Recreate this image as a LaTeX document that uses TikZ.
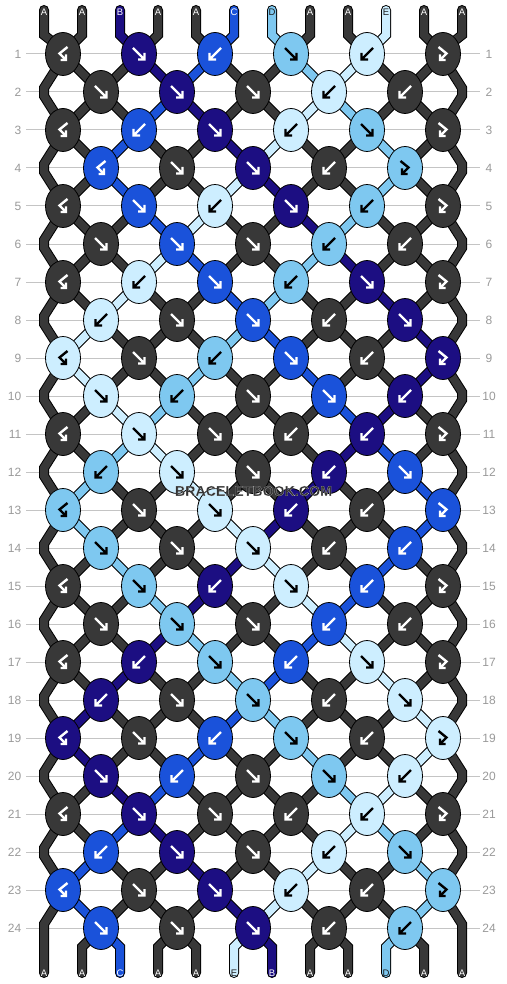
\documentclass[tikz,border=0pt]{standalone}
\usepackage{fontspec}
\setmainfont{Liberation Sans}
\usetikzlibrary{shapes.geometric}
\definecolor{colA}{HTML}{383838}
\definecolor{colB}{HTML}{1C0E82}
\definecolor{colC}{HTML}{1A52DA}
\definecolor{colD}{HTML}{7EC8F0}
\definecolor{colE}{HTML}{CDEEFF}
\colorlet{arrA}{white}
\colorlet{arrB}{white}
\colorlet{arrC}{white}
\colorlet{arrD}{black}
\colorlet{arrE}{black}
\colorlet{labA}{white}
\colorlet{labB}{white}
\colorlet{labC}{white}
\definecolor{labD}{HTML}{1A1A1A}
\definecolor{labE}{HTML}{1A1A1A}
\definecolor{rowgray}{HTML}{C4C4C4}
\definecolor{numgray}{HTML}{9A9A9A}
\definecolor{wmgray}{HTML}{333333}
\tikzset{
  knot/.style={ellipse, minimum width=35pt, minimum height=43pt, inner sep=0pt, draw=black, line width=0.8pt},
  strO/.style={line width=10pt, draw=black, line cap=round, line join=miter},
  strF/.style={line width=8pt, draw=col#1, line cap=round, line join=miter},
  arrowline/.style={line width=2.4pt, line cap=butt, line join=miter},
  rowline/.style={draw=rowgray, line width=1pt},
  rownum/.style={text=numgray, font=\fontsize{12}{12}\selectfont, inner sep=0pt},
  endlab/.style={font=\fontsize{9.5}{10}\selectfont, inner sep=0pt},
  wm/.style={font=\bfseries\fontsize{14.2}{14}\selectfont, inner sep=0pt},
}
\newcommand\haloed[1]{\special{pdf:literal direct 2 Tr 0.05 w 1 j 1 1 1 RG}#1\special{pdf:literal direct 0 Tr}}
\newcommand\knotarrow[1]{%
  \if#1f\draw[arrowline] (-6,-6) -- (5.5,5.5) (-1,5.5) -- (5.5,5.5) -- (5.5,-1);\fi
  \if#1b\draw[arrowline] (6,-6) -- (-5.5,5.5) (1,5.5) -- (-5.5,5.5) -- (-5.5,-1);\fi
  \if#1F\draw[arrowline] (-4.5,-7) -- (3.5,-0.5) -- (-3,6) (-3,0.5) -- (-3,6) -- (2.5,6);\fi
  \if#1B\draw[arrowline] (4.5,-7) -- (-3.5,-0.5) -- (3,6) (3,0.5) -- (3,6) -- (-2.5,6);\fi
}
\newcommand\allstrings[1]{%
  \draw[str#1=A] (T1) -- (p0-1) \foreach \rr in {1,...,24}{ -- ([yshift=4pt]p\rr-1) -- ([yshift=-4pt]p\rr-1)} -- (p25-1) -- (B1);
  \draw[str#1=A] (T12) -- (p0-12) \foreach \rr in {1,...,24}{ -- ([yshift=4pt]p\rr-12) -- ([yshift=-4pt]p\rr-12)} -- (p25-12) -- (B12);
  \foreach \cc [count=\pp] in {A,A,B,A,A,C,D,A,A,E,A,A}{%
    \ifnum\pp>1 \ifnum\pp<12 \draw[str#1=\cc] (T\pp) -- (p0-\pp) -- (p1-\pp);\fi\fi
  }
  \foreach \rr/\lst in {1/{A,A,A,B,C,A,A,D,E,A,A,A},
    2/{A,A,A,C,B,A,A,E,D,A,A,A},
    3/{A,A,C,A,A,B,E,A,A,D,A,A},
    4/{A,A,C,A,A,E,B,A,A,D,A,A},
    5/{A,A,A,C,E,A,A,B,D,A,A,A},
    6/{A,A,A,E,C,A,A,D,B,A,A,A},
    7/{A,A,E,A,A,C,D,A,A,B,A,A},
    8/{A,E,A,A,A,D,C,A,A,A,B,A},
    9/{A,E,A,A,D,A,A,C,A,A,B,A},
    10/{A,A,E,D,A,A,A,A,C,B,A,A},
    11/{A,A,D,E,A,A,A,A,B,C,A,A},
    12/{A,D,A,A,E,A,A,B,A,A,C,A},
    13/{A,D,A,A,A,E,B,A,A,A,C,A},
    14/{A,A,D,A,A,B,E,A,A,C,A,A},
    15/{A,A,A,D,B,A,A,E,C,A,A,A},
    16/{A,A,A,B,D,A,A,C,E,A,A,A},
    17/{A,A,B,A,A,D,C,A,A,E,A,A},
    18/{A,B,A,A,A,C,D,A,A,A,E,A},
    19/{A,B,A,A,C,A,A,D,A,A,E,A},
    20/{A,A,B,C,A,A,A,A,D,E,A,A},
    21/{A,A,C,B,A,A,A,A,E,D,A,A},
    22/{A,C,A,A,B,A,A,E,A,A,D,A},
    23/{A,C,A,A,A,B,E,A,A,A,D,A}}{%
    \pgfmathtruncatemacro\rn{\rr+1}%
    \foreach \cc [count=\pp] in \lst {%
      \ifnum\pp>1 \ifnum\pp<12 \draw[str#1=\cc] (p\rr-\pp) -- (p\rn-\pp);\fi\fi
    }
  }
  \foreach \cc [count=\pp] in {A,A,C,A,A,E,B,A,A,D,A,A}{%
    \ifnum\pp>1 \ifnum\pp<12 \draw[str#1=\cc] (p24-\pp) -- (p25-\pp) -- (B\pp);\fi\fi
  }
}
\begin{document}
\begin{tikzpicture}[x=1pt,y=-1pt]
\useasboundingbox (0,0) rectangle (506,984);
\fill[white] (0,0) rectangle (506,984);
% position coordinates
\foreach \rr in {0,...,25}{
  \foreach \pp in {1,...,12}{
    \pgfmathsetmacro\yy{\rr==0 ? 35 : (\rr==25 ? 947 : 16+38*\rr)}
    \pgfmathsetmacro\xx{(\rr==0 || \rr==25) ? 6+38*\pp : (mod(\rr,2)==1 ? 76*int((\pp+1)/2)-13 : (\pp==1 ? 44 : (\pp==12 ? 462 : 76*int(\pp/2)+25)))}
    \coordinate (p\rr-\pp) at (\xx,\yy);
  }
}
\foreach \pp in {1,...,12}{
  \pgfmathsetmacro\xx{6+38*\pp}
  \coordinate (T\pp) at (\xx,10);
  \coordinate (B\pp) at (\xx,973);
}
% row guide lines and numbers
\foreach \rr in {1,...,24}{
  \pgfmathsetmacro\yy{16+38*\rr}
  \coordinate (rl\rr) at (26,\yy);
  \coordinate (rr\rr) at (480,\yy);
  \draw[rowline] (rl\rr) -- (rr\rr);
  \node[rownum, anchor=east] (ln\rr) at (21.5,\yy) {\rr};
  \node[rownum] (rn\rr) at (489,\yy) {\rr};
}
% strings
\allstrings{O}
\allstrings{F}
% knots
\foreach \rr/\lst in {1/{A/B,B/f,C/b,D/f,E/b,A/F},
  2/{A/f,B/f,A/f,E/b,A/b},
  3/{A/B,C/b,B/f,E/b,D/f,A/F},
  4/{C/B,A/f,B/f,A/b,D/F},
  5/{A/B,C/f,E/b,B/f,D/b,A/F},
  6/{A/f,C/f,A/f,D/b,A/b},
  7/{A/B,E/b,C/f,D/b,B/f,A/F},
  8/{E/b,A/f,C/f,A/b,B/f},
  9/{E/B,A/f,D/b,C/f,A/b,B/F},
  10/{E/f,D/b,A/f,C/f,B/b},
  11/{A/B,E/f,A/f,A/b,B/b,A/F},
  12/{D/b,E/f,A/f,B/b,C/f},
  13/{D/B,A/f,E/f,B/b,A/b,C/F},
  14/{D/f,A/f,E/f,A/b,C/b},
  15/{A/B,D/f,B/b,E/f,C/b,A/F},
  16/{A/f,D/f,A/f,C/b,A/b},
  17/{A/B,B/b,D/f,C/b,E/f,A/F},
  18/{B/b,A/f,D/f,A/b,E/f},
  19/{B/B,A/f,C/b,D/f,A/b,E/F},
  20/{B/f,C/b,A/f,D/f,E/b},
  21/{A/B,B/f,A/f,A/b,E/b,A/F},
  22/{C/b,B/f,A/f,E/b,D/f},
  23/{C/B,A/f,B/f,E/b,A/b,D/F},
  24/{C/f,A/f,B/f,A/b,D/b}}{%
  \foreach \cc/\tp [count=\kk] in \lst {%
    \pgfmathsetmacro\xx{mod(\rr,2)==1 ? 76*\kk-13 : 76*\kk+25}
    \pgfmathsetmacro\yy{16+38*\rr}
    \node[knot, fill=col\cc] (n\rr-\kk) at (\xx,\yy) {};
    \begin{scope}[shift={(n\rr-\kk.center)}, color=arr\cc]
      \knotarrow{\tp}
    \end{scope}
  }
}
% end labels
\foreach \cc [count=\pp] in {A,A,B,A,A,C,D,A,A,E,A,A}{
  \node[endlab, text=lab\cc] (lt\pp) at ([yshift=-2.5pt]T\pp) {\cc};
}
\foreach \cc [count=\pp] in {A,A,C,A,A,E,B,A,A,D,A,A}{
  \node[endlab, text=lab\cc] (lb\pp) at (B\pp) {\cc};
}
% watermark
\node[wm, text=wmgray] (wm) at (253.5,491) {\haloed{BRACELETBOOK.COM}};
\end{tikzpicture}
\end{document}
